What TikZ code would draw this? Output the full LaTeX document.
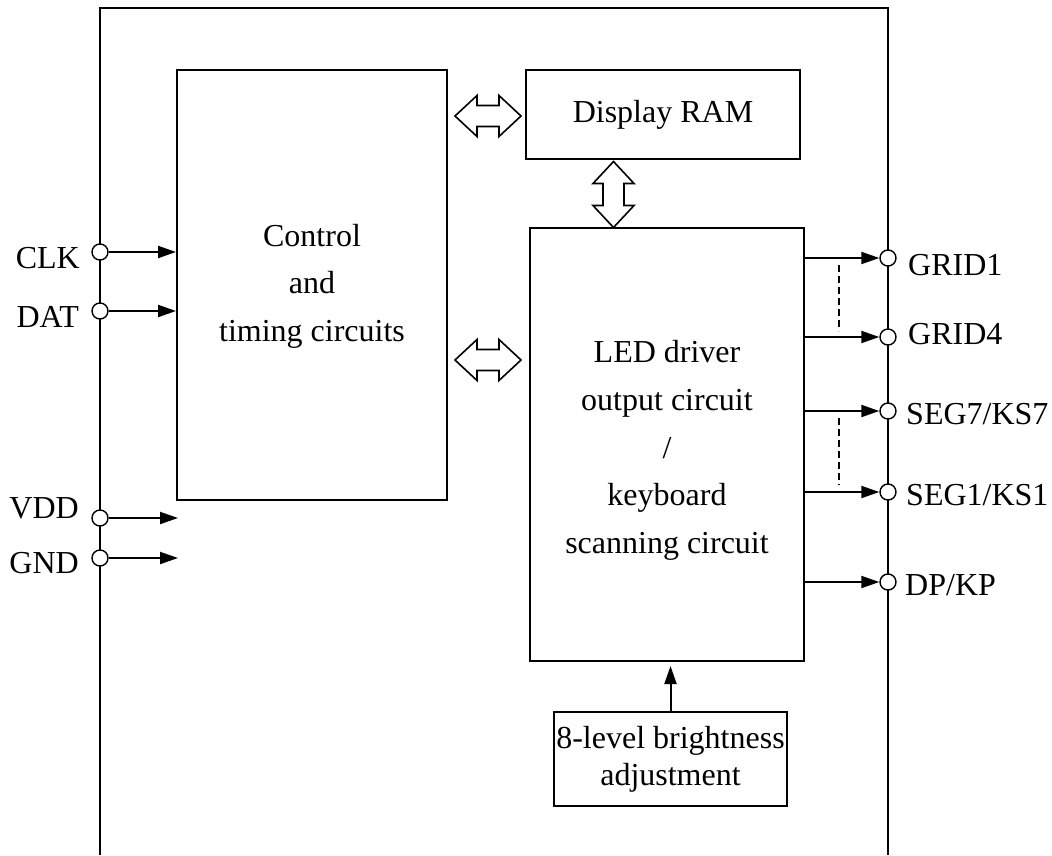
\documentclass[tikz,border=0pt]{standalone}
\usepackage{fontspec}
\setmainfont{Liberation Serif}
\usetikzlibrary{arrows.meta}
\begin{document}
\begin{tikzpicture}[x=1pt,y=-1pt,
  every node/.style={font=\fontsize{32}{47.6}\selectfont},
  box/.style={draw, line width=2pt, inner sep=0pt, align=center},
  pinc/.style={draw, circle, fill=white, line width=1.4pt, minimum size=16pt, inner sep=0pt},
  lbl/.style={inner sep=0pt},
  sig/.style={line width=2pt, -{Triangle[length=18pt,width=12pt]}},
  frame/.style={line width=2.2pt},
  dl/.style={line width=1.6pt, dash pattern=on 7pt off 4pt},
  dblarrow/.pic={\draw[line width=1.6pt, line join=miter, fill=white]
     (-33,0) -- (-11,20.5) -- (-11,10.5) -- (11,10.5) -- (11,20.5) -- (33,0)
     -- (11,-20.5) -- (11,-10.5) -- (-11,-10.5) -- (-11,-20.5) -- cycle;}
]
\useasboundingbox (0,0) rectangle (1052,855);
% outer frame (open at bottom)
\draw[frame] (100,855) -- (100,8) -- (888,8) -- (888,855);

% blocks
\node[box, minimum width=270pt, minimum height=430pt] (ctrl) at (312,285) {};
\node[align=center] (ctrlt) at ([yshift=-1pt]ctrl.center) {Control\\and\\timing circuits};
\node[box, minimum width=274pt, minimum height=89pt] (ram) at (663,114.5) {Display RAM};
\node[box, minimum width=274pt, minimum height=433pt] (led) at (667,444.5) {};
\node[align=center] (ledt) at ([yshift=-6pt]led.center) {LED driver\\output circuit\\/\\keyboard\\scanning circuit};
\node[box, minimum width=233pt, minimum height=94pt, font=\fontsize{32}{37}\selectfont] (bright) at (670.5,759) {8-level brightness\\adjustment};

% hollow double arrows
\pic at (488,116) {dblarrow};
\pic at (488,360) {dblarrow};
\pic[rotate=90] at (613.5,194.5) {dblarrow};

% left pins
\node[pinc] (clk) at (100,252) {};
\node[pinc] (dat) at (100,311) {};
\node[pinc] (vdd) at (100,518) {};
\node[pinc] (gnd) at (100,558) {};
\node[lbl, anchor=base east] (clkl) at (80,268) {CLK};
\node[lbl, anchor=base east] (datl) at (79,327) {DAT};
\node[lbl, anchor=base east] (vddl) at (79,518) {VDD};
\node[lbl, anchor=base east] (gndl) at (79,573) {GND};
\coordinate (vddend) at (178,518);
\coordinate (gndend) at (178,558);
\draw[sig] (clk) -- (ctrl.west |- clk);
\draw[sig] (dat) -- (ctrl.west |- dat);
\draw[sig] (vdd) -- (vddend);
\draw[sig] (gnd) -- (gndend);

% right pins
\node[pinc] (g1) at (888,258) {};
\node[pinc] (g4) at (888,337) {};
\node[pinc] (s7) at (888,411) {};
\node[pinc] (s1) at (888,492) {};
\node[pinc] (dp) at (888,582) {};
\node[lbl, anchor=base west] (g1l) at (908,275) {GRID1};
\node[lbl, anchor=base west] (g4l) at (908,344) {GRID4};
\node[lbl, anchor=base west] (s7l) at (906,424) {SEG7/KS7};
\node[lbl, anchor=base west] (s1l) at (906,505) {SEG1/KS1};
\node[lbl, anchor=base west] (dpl) at (905,595) {DP/KP};
\draw[sig] (led.east |- g1) -- (g1);
\draw[sig] (led.east |- g4) -- (g4);
\draw[sig] (led.east |- s7) -- (s7);
\draw[sig] (led.east |- s1) -- (s1);
\draw[sig] (led.east |- dp) -- (dp);
\coordinate (d1a) at (839,265);
\coordinate (d1b) at (839,331);
\coordinate (d2a) at (839,418);
\coordinate (d2b) at (839,485);
\draw[dl] (d1a) -- (d1b);
\draw[dl] (d2a) -- (d2b);

% brightness arrow
\draw[sig, shorten >=4pt] (bright.north) -- (led.south -| bright.north);
\end{tikzpicture}
\end{document}
